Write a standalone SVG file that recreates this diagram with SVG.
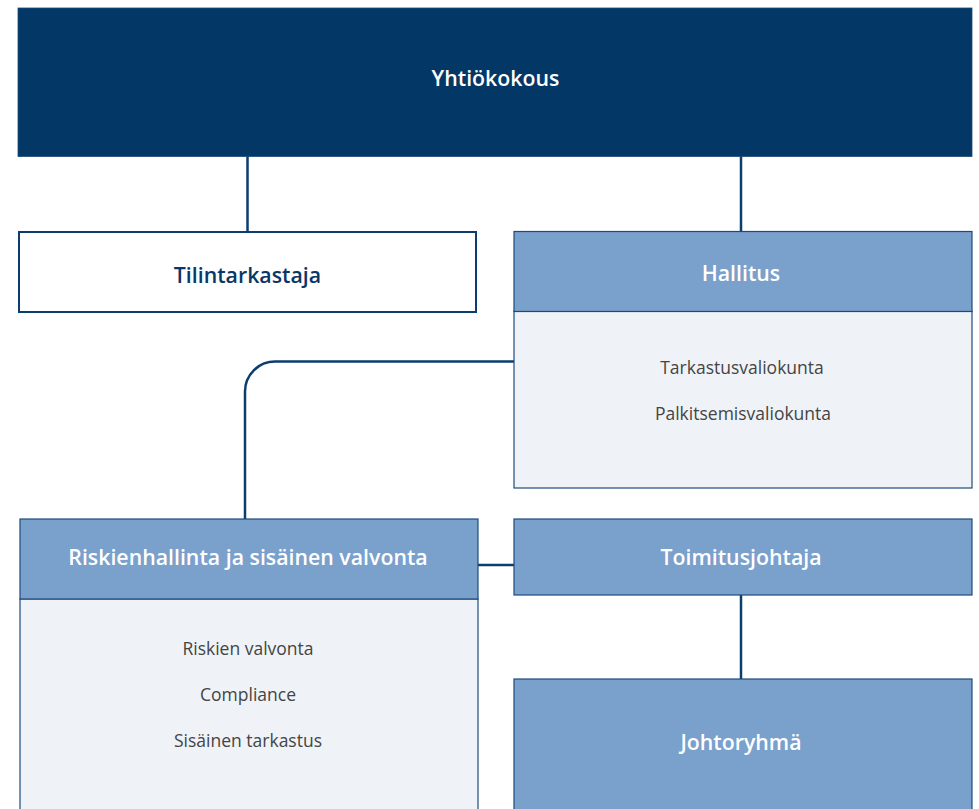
<svg xmlns="http://www.w3.org/2000/svg" width="979" height="809" viewBox="0 0 979 809">
<style>
.hdr{fill:#7aa0cc;stroke:#1b4b7c;stroke-width:1.2}
.body{fill:#eff3f7;stroke:#1b4b7c;stroke-width:1.2}
.t{font-family:"Open Sans","Noto Sans",sans-serif;text-anchor:middle}
.b{font-weight:600;font-size:21.3px;fill:#ffffff}
.s{font-size:17.5px;fill:#444444}
.conn{fill:none;stroke:#0b3d6e;stroke-width:2.5}
</style>
<rect width="979" height="809" fill="#ffffff"/>
<g id="connectors">
<path class="conn" d="M247.5 156V231"/>
<path class="conn" d="M741 156V231"/>
<path class="conn" d="M514 361.5H275A30 30 0 0 0 245 391.5V519"/>
<path class="conn" d="M478 565H514"/>
<path class="conn" d="M741 595V679"/>
</g>
<g id="yhtiokokous">
<rect x="18" y="8" width="954" height="148.5" fill="#033766" stroke="#1b4b7c" stroke-width="0.8"/>
<text class="t b" x="495.5" y="85.5">Yhtiökokous</text>
</g>
<g id="tilintarkastaja">
<rect x="19" y="232" width="457" height="80" fill="#ffffff" stroke="#0b3d6e" stroke-width="2"/>
<text class="t b" x="247.5" y="282.5" style="fill:#0b3766">Tilintarkastaja</text>
</g>
<g id="hallitus">
<rect class="body" x="514" y="311" width="458" height="177"/>
<rect class="hdr" x="514" y="231.5" width="458" height="80"/>
<text class="t b" x="741" y="280.5">Hallitus</text>
<text class="t s" x="742" y="373.5">Tarkastusvaliokunta</text>
<text class="t s" x="743" y="419.5">Palkitsemisvaliokunta</text>
</g>
<g id="riskienhallinta">
<rect class="body" x="20" y="599" width="458" height="220"/>
<rect class="hdr" x="20" y="519" width="458" height="80"/>
<text class="t b" x="248" y="564.5">Riskienhallinta ja sisäinen valvonta</text>
<text class="t s" x="248" y="654.5">Riskien valvonta</text>
<text class="t s" x="248" y="700.5">Compliance</text>
<text class="t s" x="248" y="746.5">Sisäinen tarkastus</text>
</g>
<g id="toimitusjohtaja">
<rect class="hdr" x="514" y="519" width="458" height="76"/>
<text class="t b" x="741" y="564.5">Toimitusjohtaja</text>
</g>
<g id="johtoryhma">
<rect class="hdr" x="514" y="679" width="458" height="140"/>
<text class="t b" x="741" y="749.5">Johtoryhmä</text>
</g>
</svg>
